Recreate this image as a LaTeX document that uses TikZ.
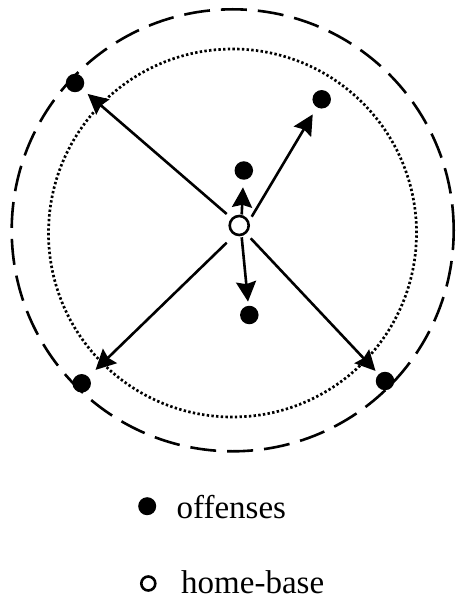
\documentclass[tikz,border=0pt]{standalone}
\usepackage{fontspec}
\setmainfont{Liberation Serif}
\usetikzlibrary{arrows.meta}
\begin{document}
\begin{tikzpicture}[x=1pt,y=-1pt,
  offense/.style={circle, fill=black, minimum size=18.5pt, inner sep=0pt, outer sep=0pt},
  homebase/.style={circle, draw=black, line width=2.6pt, fill=white, minimum size=19pt, inner sep=0pt, outer sep=0pt},
  legdot/.style={circle, fill=black, minimum size=18pt, inner sep=0pt, outer sep=0pt},
  leghome/.style={circle, draw=black, line width=2.6pt, minimum size=14pt, inner sep=0pt, outer sep=0pt},
  move/.style={line width=2.6pt, -{Stealth[length=20pt,width=20pt,inset=2.5pt]}},
  outerring/.style={line width=2.6pt, dash pattern=on 26pt off 11pt},
  innerring/.style={line width=2.7pt, dash pattern=on 2.4pt off 2.3pt},
  legtext/.style={anchor=base west, inner sep=0pt, text depth=0pt, font=\fontsize{33}{40}\selectfont}
]
\useasboundingbox (0,0) rectangle (455,601);
% rings
\draw[outerring] (232.7,230.3) circle (221pt);
\draw[innerring] (232.5,233) circle (184pt);
% offenses
\node[offense] (dTL) at (75,83) {};
\node[offense] (dTR) at (321.7,99.3) {};
\node[offense] (dU) at (243.8,170.5) {};
\node[offense] (dD) at (249.3,315) {};
\node[offense] (dBL) at (81.7,383.3) {};
\node[offense] (dBR) at (385,381) {};
% home base
\node[homebase] (home) at (239.2,225.5) {};
% arrow starts near home base
\coordinate (sTL) at (226.7,214);
\coordinate (sTR) at (251.7,216.7);
\coordinate (sU) at (241.7,214.5);
\coordinate (sD) at (241.7,237.3);
\coordinate (sBL) at (226.7,242.7);
\coordinate (sBR) at (250.7,238.3);
% moves
\draw[move, shorten >=7.5pt] (sTL) -- (dTL);
\draw[move, shorten >=8.3pt] (sTR) -- (dTR);
\draw[move, shorten >=7.6pt] (sU) -- (dU);
\draw[move, shorten >=4.2pt] (sD) -- (dD);
\draw[move, shorten >=10pt] (sBL) -- (dBL);
\draw[move, shorten >=4.6pt] (sBR) -- (dBR);
% legend
\node[legdot] (ld) at (147.2,506.2) {};
\node[legtext] (lt1) at (176.5,518) {offenses};
\node[leghome] (lh) at (148.3,583.5) {};
\node[legtext] (lt2) at (181,593.5) {home-base};
\end{tikzpicture}
\end{document}
